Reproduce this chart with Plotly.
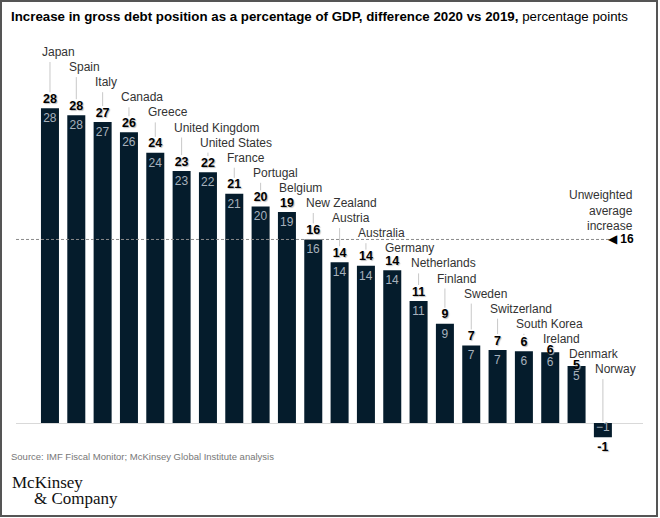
import plotly.graph_objects as go

countries = ["Japan", "Spain", "Italy", "Canada", "Greece", "United Kingdom",
             "United States", "France", "Portugal", "Belgium", "New Zealand",
             "Austria", "Australia", "Germany", "Netherlands", "Finland",
             "Sweden", "Switzerland", "South Korea", "Ireland", "Denmark", "Norway"]
values = [27.6, 27.0, 26.4, 25.5, 23.7, 22.1, 22.0, 20.1, 19.0, 18.5, 16.1,
          14.1, 13.8, 13.4, 10.7, 8.7, 6.8, 6.4, 6.3, 6.2, 5.0, -1.25]
labels = [28, 28, 27, 26, 24, 23, 22, 21, 20, 19, 16,
          14, 14, 14, 11, 9, 7, 7, 6, 6, 5, -1]
avg_value = 16.1
avg_label = "16"

title_bold = "Increase in gross debt position as a percentage of GDP, difference 2020 vs 2019,"
title_rest = "percentage points"
source = "Source: IMF Fiscal Monitor; McKinsey Global Institute analysis"

NAVY = "#051c2c"
GREY_TXT = "#333333"

# layout geometry (pixels)
W, H = 660, 518
ML, MR, MT, MB = 16, 17, 30, 60
PW, PH = W - ML - MR, H - MT - MB
ZERO_PX = 423
PX_PER_UNIT = 11.4
Y_RANGE = [-(MT + PH - ZERO_PX) / PX_PER_UNIT, (ZERO_PX - MT) / PX_PER_UNIT]


def py_to_y(py):
    return (ZERO_PX - py) / PX_PER_UNIT


def px_paper(px):
    return (px - ML) / PW


def py_paper(py):
    return (MT + PH - py) / PH


def name_py(i):
    # staircase of country names
    return 52 + 15.1 * i


# where the bold value label sits (data units)
bold_y = []
for i, v in enumerate(values):
    if v > 0:
        bold_y.append(min(v + 8.5 / PX_PER_UNIT, py_to_y(name_py(i) + 12)))
    else:
        bold_y.append(v - 11 / PX_PER_UNIT)

fig = go.Figure()

# leader lines from country name down to the value label
lx, ly = [], []
for i, v in enumerate(values):
    end = bold_y[i] + 7.5 / PX_PER_UNIT if v > 0 else 1.5 / PX_PER_UNIT
    start = py_to_y(name_py(i) + 10)
    if start > end:
        lx += [i, i, None]
        ly += [start, end, None]
fig.add_trace(go.Scatter(x=lx, y=ly, mode="lines", hoverinfo="skip",
                         line=dict(color="#c8c8c8", width=1), showlegend=False))

# bars
fig.add_trace(go.Bar(
    x=list(range(len(countries))), y=values,
    marker=dict(color=NAVY, line_width=0),
    text=[str(l).replace("-", "\u2212") for l in labels],
    textposition="inside", insidetextanchor="end",
    textfont=dict(color="#a7b1bc", size=12),
    showlegend=False, hovertext=countries,
))

# bold value labels
fig.add_trace(go.Scatter(
    x=list(range(len(countries))), y=bold_y, mode="text",
    text=[str(l) for l in labels],
    textposition="middle center",
    textfont=dict(color="#000000", size=12.5, weight="bold",
                  shadow="1px 1px 1px #bbbbbb"),
    showlegend=False, hoverinfo="skip",
))

# average line
fig.add_shape(type="line", xref="paper", yref="y",
              x0=0, x1=px_paper(610), y0=avg_value, y1=avg_value,
              line=dict(color="#8a8a8a", width=1, dash="3px,2px"))

annotations = []
for i, c in enumerate(countries):
    annotations.append(dict(x=i - 0.36, y=py_to_y(name_py(i)), xref="x", yref="y",
                            text=c, showarrow=False, xanchor="left", yanchor="middle",
                            font=dict(size=12, color=GREY_TXT)))

annotations += [
    dict(x=px_paper(635), y=py_to_y(210), xref="paper", yref="y",
         text="Unweighted<br>average<br>increase", showarrow=False,
         xanchor="right", yanchor="middle", align="right",
         font=dict(size=12, color=GREY_TXT)),
    dict(x=px_paper(636), y=avg_value, xref="paper", yref="y",
         text="\u25c0 <b>" + avg_label + "</b>", showarrow=False,
         xanchor="right", yanchor="middle",
         font=dict(size=12, color="#000000")),
    dict(x=px_paper(9), y=py_paper(17), xref="paper", yref="paper",
         text="<b>" + title_bold + "</b> " + title_rest, showarrow=False,
         xanchor="left", yanchor="middle",
         font=dict(size=13.3, color="#000000")),
    dict(x=px_paper(9), y=py_paper(456), xref="paper", yref="paper",
         text=source, showarrow=False, xanchor="left", yanchor="middle",
         font=dict(size=9.5, color="#777777")),
    dict(x=px_paper(10), y=py_paper(482), xref="paper", yref="paper",
         text="McKinsey", showarrow=False, xanchor="left", yanchor="middle",
         font=dict(size=17, color="#111111", family="Liberation Serif")),
    dict(x=px_paper(32), y=py_paper(498), xref="paper", yref="paper",
         text="&amp; Company", showarrow=False, xanchor="left", yanchor="middle",
         font=dict(size=17, color="#111111", family="Liberation Serif")),
]

# frame around the whole picture
fig.add_shape(type="rect", xref="paper", yref="paper",
              x0=px_paper(1), x1=px_paper(657), y0=py_paper(516), y1=py_paper(1),
              line=dict(color="#555555", width=2))

fig.update_xaxes(type="linear", range=[-1.29, -1.29 + PW / 26.33],
                 showticklabels=False, showgrid=False, zeroline=False)
fig.update_yaxes(range=Y_RANGE, showticklabels=False, showgrid=False,
                 zeroline=True, zerolinecolor="#d9d9d9", zerolinewidth=1)

fig.update_layout(
    width=W, height=H,
    margin=dict(l=ML, r=MR, t=MT, b=MB),
    paper_bgcolor="white", plot_bgcolor="white",
    font=dict(family="Liberation Sans", color=GREY_TXT),
    bargap=0.316,
    uniformtext=dict(minsize=12, mode="show"),
    annotations=annotations,
)

fig.write_html("out.html", config={"displayModeBar": False},
               post_script="document.body.style.margin='0';")
